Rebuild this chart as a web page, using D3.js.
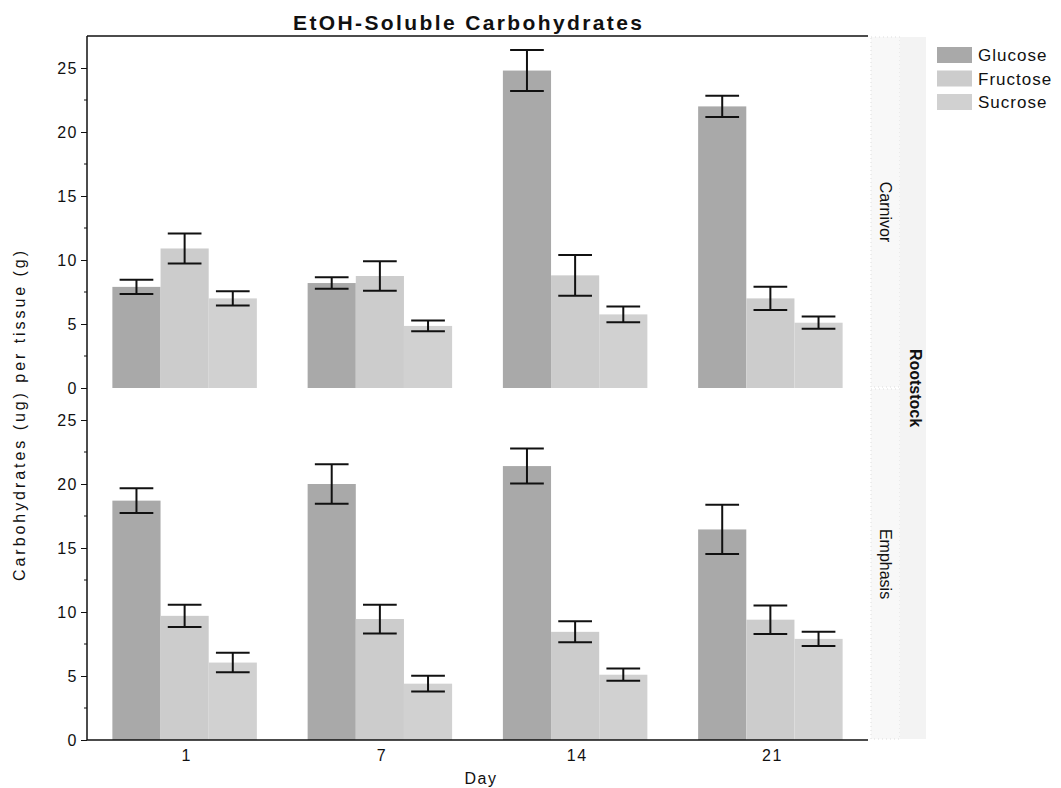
<!DOCTYPE html>
<html>
<head>
<meta charset="utf-8">
<script src="https://cdn.jsdelivr.net/npm/d3@7"></script>
<style>
  html, body { margin: 0; padding: 0; background: #fff; }
  svg { display: block; font-family: "Liberation Sans", Arial, sans-serif; }
</style>
</head>
<body>
<svg id="chart" width="1061" height="788"></svg>
<script>
// ---- data ----
const days = ["1", "7", "14", "21"];
const sugars = ["Glucose", "Fructose", "Sucrose"];
const rootstocks = ["Carnivor", "Emphasis"];
const yTicks = [0, 5, 10, 15, 20, 25];

const carnivorGlucose  = [7.9, 8.2, 24.8, 22.0];
const carnivorFructose = [10.9, 8.75, 8.8, 7.0];
const carnivorSucrose  = [7.0, 4.85, 5.75, 5.1];
const carnivorGlucoseErr  = [0.55, 0.45, 1.6, 0.83];
const carnivorFructoseErr = [1.17, 1.15, 1.6, 0.91];
const carnivorSucroseErr  = [0.55, 0.42, 0.62, 0.48];

const emphasisGlucose  = [18.7, 20.0, 21.4, 16.45];
const emphasisFructose = [9.7, 9.45, 8.45, 9.4];
const emphasisSucrose  = [6.05, 4.4, 5.1, 7.9];
const emphasisGlucoseErr  = [0.97, 1.55, 1.37, 1.92];
const emphasisFructoseErr = [0.87, 1.12, 0.82, 1.11];
const emphasisSucroseErr  = [0.76, 0.62, 0.48, 0.55];

const panelData = {
  Carnivor: {
    Glucose: [carnivorGlucose, carnivorGlucoseErr],
    Fructose: [carnivorFructose, carnivorFructoseErr],
    Sucrose: [carnivorSucrose, carnivorSucroseErr]
  },
  Emphasis: {
    Glucose: [emphasisGlucose, emphasisGlucoseErr],
    Fructose: [emphasisFructose, emphasisFructoseErr],
    Sucrose: [emphasisSucrose, emphasisSucroseErr]
  }
};

(function () {
// ---- layout ----
const svg = d3.select("#chart");
const pLeft = 87, pRight = 868, pTop0 = 36, panelH = 352;
const colors = d3.scaleOrdinal().domain(sugars).range(["#a9a9a9", "#cccccc", "#d1d1d1"]);

const x0 = d3.scaleBand().domain(days).range([pLeft, pRight]).paddingInner(0.26).paddingOuter(0.13);
const x1 = d3.scaleBand().domain(sugars).range([0, x0.bandwidth()]);

const ink = "#111";

rootstocks.forEach((rs, pi) => {
  const pTop = pTop0 + pi * panelH;
  const pBot = pTop + panelH;
  const y = d3.scaleLinear().domain([0, 27.5]).range([pBot, pTop]);
  const g = svg.append("g");

  // strip
  g.append("rect").attr("x", 871).attr("y", pTop + 1).attr("width", 29).attr("height", panelH - 2)
    .attr("fill", "#f8f8f8").attr("stroke", "#dddddd").attr("stroke-dasharray", "1,3");
  g.append("text")
    .attr("transform", `translate(${885.5},${(pTop + pBot) / 2}) rotate(90)`)
    .attr("text-anchor", "middle").attr("dy", "0.35em")
    .attr("font-size", 16).attr("fill", ink).text(rs);

  // bars
  days.forEach((d, di) => {
    sugars.forEach(s => {
      const v = panelData[rs][s][0][di];
      const e = panelData[rs][s][1][di];
      const bx = x0(d) + x1(s);
      g.append("rect")
        .attr("x", bx).attr("y", y(v))
        .attr("width", x1.bandwidth()).attr("height", y(0) - y(v))
        .attr("fill", colors(s));
      const cx = bx + x1.bandwidth() / 2;
      const cw = x1.bandwidth() * 0.35;
      g.append("line").attr("x1", cx).attr("x2", cx).attr("y1", y(v + e)).attr("y2", y(v - e))
        .attr("stroke", ink).attr("stroke-width", 2);
      [v + e, v - e].forEach(t => {
        g.append("line").attr("x1", cx - cw).attr("x2", cx + cw).attr("y1", y(t)).attr("y2", y(t))
          .attr("stroke", ink).attr("stroke-width", 2);
      });
    });
  });

  // y axis
  const ax = d3.axisLeft(y).tickValues(yTicks).tickSize(6).tickPadding(3).tickFormat(d3.format("d"));
  const ag = g.append("g").attr("transform", `translate(${pLeft},0)`).call(ax);
  ag.select(".domain").remove();
  ag.selectAll("line").attr("stroke", ink);
  ag.selectAll("text").attr("font-size", 16).attr("fill", ink).attr("letter-spacing", "1.5px")
    .attr("font-family", "Liberation Sans, Arial, sans-serif");
  const minor = d3.range(2.5, 27.5, 5);
  g.selectAll(".minor").data(minor).enter().append("line")
    .attr("x1", pLeft - 3).attr("x2", pLeft).attr("y1", d => y(d)).attr("y2", d => y(d))
    .attr("stroke", ink);
});

// left axis line, top line and bottom axis line
svg.append("line").attr("x1", pLeft).attr("x2", pLeft).attr("y1", pTop0).attr("y2", pTop0 + 2 * panelH)
  .attr("stroke", ink).attr("stroke-width", 1.5);
svg.append("line").attr("x1", pLeft).attr("x2", pRight).attr("y1", pTop0).attr("y2", pTop0)
  .attr("stroke", ink).attr("stroke-width", 1.5);
svg.append("line").attr("x1", pLeft).attr("x2", pRight).attr("y1", pTop0 + 2 * panelH).attr("y2", pTop0 + 2 * panelH)
  .attr("stroke", ink).attr("stroke-width", 1.5);

// outer strip
svg.append("rect").attr("x", 900).attr("y", pTop0 + 1).attr("width", 26).attr("height", 2 * panelH - 2)
  .attr("fill", "#f3f3f3");
svg.append("text")
  .attr("transform", `translate(${916},${pTop0 + panelH}) rotate(90)`)
  .attr("text-anchor", "middle").attr("dy", "0.35em")
  .attr("font-size", 16).attr("font-weight", "bold").attr("fill", ink).text("Rootstock");

// x axis labels
const xa = d3.axisBottom(x0).tickSize(0).tickPadding(10);
const xg = svg.append("g").attr("transform", `translate(2,${pTop0 + 2 * panelH})`).call(xa);
xg.select(".domain").remove();
xg.selectAll("text").attr("font-size", 16).attr("fill", ink).attr("letter-spacing", "1.5px")
  .attr("font-family", "Liberation Sans, Arial, sans-serif");

svg.append("text").attr("x", 481).attr("y", 784).attr("text-anchor", "middle")
  .attr("font-size", 16).attr("fill", ink).attr("letter-spacing", "1.5px").text("Day");

// y label
svg.append("text")
  .attr("transform", `translate(25,416) rotate(-90)`)
  .attr("text-anchor", "middle")
  .attr("font-size", 16).attr("fill", ink)
  .attr("textLength", 330).attr("lengthAdjust", "spacing")
  .text("Carbohydrates (ug) per tissue (g)");

// title
svg.append("text").attr("x", 293).attr("y", 30)
  .attr("font-size", 21).attr("font-weight", "bold").attr("fill", ink)
  .attr("textLength", 349).attr("lengthAdjust", "spacing")
  .text("EtOH-Soluble Carbohydrates");

// legend
const lg = svg.append("g");
sugars.forEach((s, i) => {
  lg.append("rect").attr("x", 937).attr("y", 47 + i * 23.5).attr("width", 35).attr("height", 16)
    .attr("fill", colors(s));
  lg.append("text").attr("x", 978).attr("y", 61 + i * 23.5)
    .attr("font-size", 17).attr("fill", ink).attr("letter-spacing", "1px").text(s);
});
})();
</script>
</body>
</html>
